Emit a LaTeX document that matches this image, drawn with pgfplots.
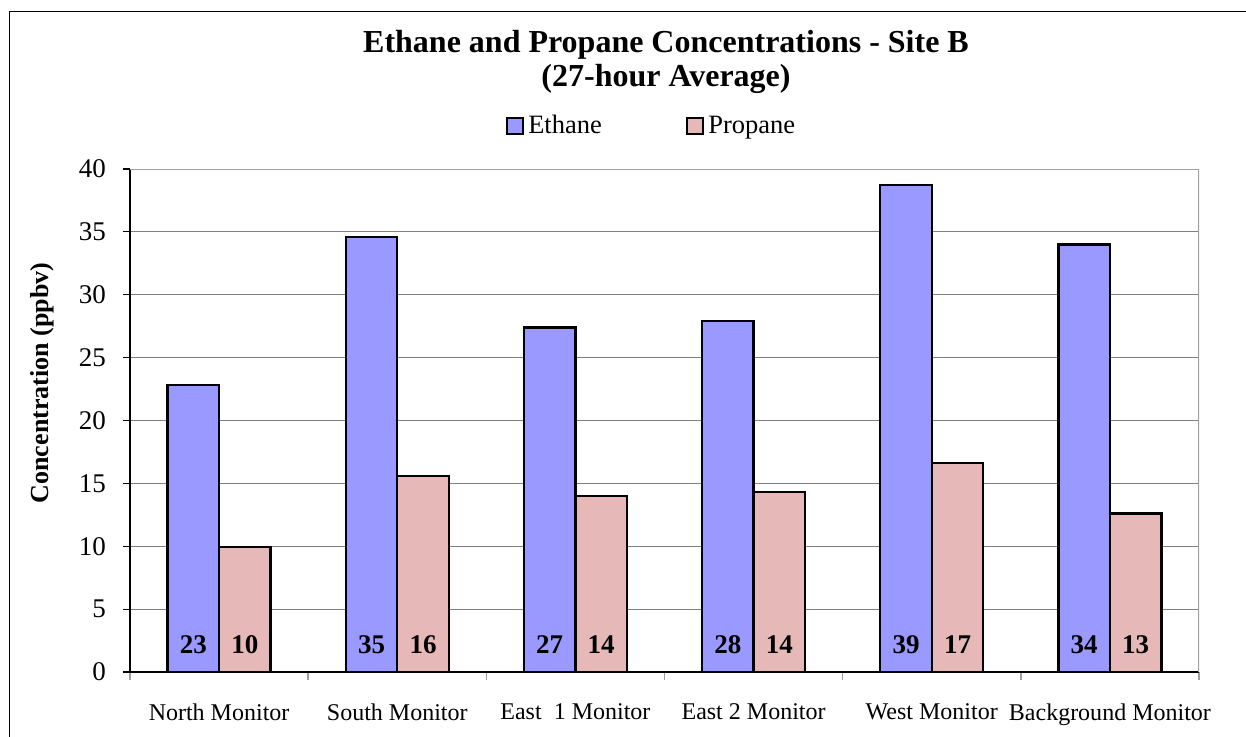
\documentclass[border=0pt]{standalone}
\usepackage{pgfplots}
\pgfplotsset{compat=1.18}
\usepackage{fontspec}
\setmainfont{Liberation Serif}
\definecolor{eth}{HTML}{9999FF}
\definecolor{pro}{HTML}{E6B9B8}
\definecolor{gridc}{HTML}{808080}
\definecolor{boxc}{HTML}{A0A0A0}
\begin{document}
\begin{tikzpicture}[x=0.5pt,y=-0.5pt]
\useasboundingbox (0,0) rectangle (1246,736);
\draw[line width=0.9pt] (9.5,745) -- (9.5,11.5) -- (1255,11.5);
\node[font=\fontsize{16}{19}\selectfont\bfseries] at (666,45) {Ethane and Propane Concentrations - Site B};
\node[font=\fontsize{16}{19}\selectfont\bfseries] at (666,79) {(27-hour Average)};
\node[rotate=90, font=\fontsize{13}{15}\selectfont\bfseries] at (42,383) {Concentration (ppbv)};
\begin{axis}[
  at={(65pt,-336pt)}, anchor=south west,
  width=534.5pt, height=251.5pt, scale only axis,
  /pgf/number format/assume math mode=true,
  xmin=-0.5, xmax=5.5, ymin=0, ymax=40,
  ybar=0pt, bar width=25.75pt,
  ytick={0,5,...,40},
  xtick={0,1,2,3,4,5},
  xticklabels={North Monitor, South Monitor, East\ \ 1 Monitor, East 2 Monitor, West Monitor, Background Monitor},
  major x tick style={draw=none},
  minor xtick={-0.5,0.5,1.5,2.5,3.5,4.5,5.5},
  minor x tick style={boxc, line width=0.8pt},
  minor tick length=4pt,
  major tick length=3.5pt,
  tick align=outside,
  y tick style={black, line width=0.6pt},
  ymajorgrids, y grid style={gridc, line width=0.5pt},
  axis x line*=bottom, axis y line*=left,
  axis line style={black, line width=0.8pt},
  yticklabel style={font=\fontsize{13.5}{16}\selectfont, xshift=-5pt},
  xticklabel style={font=\fontsize{12}{14}\selectfont, yshift=-9pt},
  legend style={draw=none, fill=none, at={(0.5,1)}, anchor=center, yshift=21.5pt, xshift=-6pt,
    legend columns=2, font=\fontsize{13.25}{16}\selectfont,
    /tikz/every even column/.append style={column sep=40pt}},
  legend image code/.code={\draw[#1, line width=1.2pt] (0pt,-4pt) rectangle (8pt,4pt);},
  nodes near coords={\pgfmathprintnumber[fixed,precision=0]{\pgfplotspointmeta}},
  visualization depends on={rawy \as \rawy},
  every node near coord/.append style={font=\fontsize{13.5}{16}\selectfont\bfseries, anchor=center, shift={(axis direction cs:0,{2.15-\rawy})}},
]
\addplot[fill=eth, draw=black, line width=1.1pt] coordinates {(0,22.8) (1,34.6) (2,27.4) (3,27.9) (4,38.7) (5,34.0)};
\addplot[fill=pro, draw=black, line width=1.1pt] coordinates {(0,9.94) (1,15.6) (2,14.0) (3,14.3) (4,16.6) (5,12.6)};
\legend{Ethane, Propane}
\draw[boxc, line width=1pt] (rel axis cs:0,1) -- (rel axis cs:1,1) -- (rel axis cs:1,0);
\end{axis}
\end{tikzpicture}
\end{document}
